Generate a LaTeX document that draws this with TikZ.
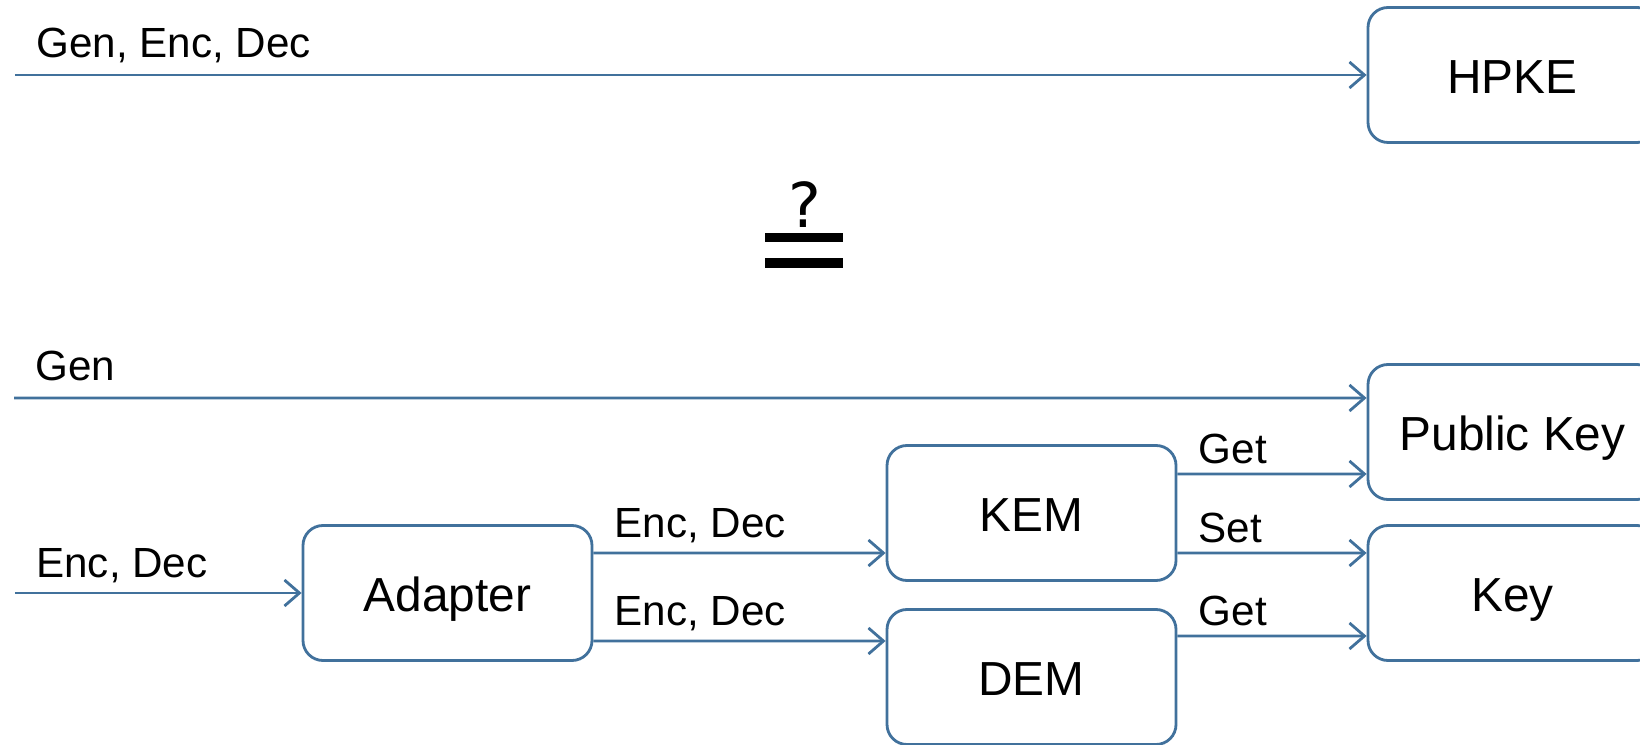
\documentclass[tikz,border=0pt]{standalone}
\usepackage{fontspec}
\setmainfont{Liberation Sans}
\newfontfamily\symfont{DejaVu Sans}
\usetikzlibrary{arrows.meta}
\definecolor{boxblue}{RGB}{65,113,156}
\tikzset{
  box/.style={draw=boxblue, line width=0.8pt, rounded corners=0.2cm,
    minimum width=2.89cm, minimum height=1.35cm, text height=1.05em, text depth=0pt,
    font=\fontsize{13.6}{16}\selectfont},
  arr/.style={draw=boxblue, line width=0.8pt, -{Straight Barb[length=1.5mm,width=2.6mm]}},
  lbl/.style={anchor=base west, inner sep=0pt, xshift=2mm, font=\fontsize{12}{14}\selectfont}
}
\begin{document}
\begin{tikzpicture}
                \useasboundingbox (0,0) rectangle (16.4,7.45);
                % top: the whole scheme
                \node[box] (hpke) at (15.125,6.70) {HPKE};
                \coordinate (topin) at (0.15,6.70);
                \draw[arr] (topin) -- node[lbl,pos=0,yshift=1.7mm] {Gen, Enc, Dec} (hpke);
                % questioned equal
                \node[font=\symfont\fontsize{17.6}{20}\selectfont, inner sep=0pt] (qmark) at (8.045,5.405) {?};
                \fill (7.65,5.03) rectangle (8.43,5.12);
                \fill (7.65,4.77) rectangle (8.43,4.87);
                % bottom: split into parts
                \node[box] (pk)      at (15.125,3.13) {Public Key};
                \node[box] (key)     at (15.125,1.52) {Key};
                \node[box] (kem)     at (10.315,2.32) {KEM};
                \node[box] (dem)     at (10.315,0.68) {DEM};
                \node[box] (adapter) at (4.475,1.52)  {Adapter};
                \coordinate (genin) at (0.14,3.47);
                \coordinate (encin) at (0.15,1.52);
                \draw[arr] (genin) -- node[lbl,pos=0,yshift=1.7mm] {Gen} ([yshift=3.4mm]pk.west);
                \draw[arr] (encin) -- node[lbl,pos=0,yshift=1.5mm] {Enc, Dec} (adapter);
                \draw[arr] ([yshift=4mm]adapter.east) -- node[lbl,pos=0,yshift=1.5mm] {Enc, Dec} ([yshift=-4mm]kem.west);
                \draw[arr] ([yshift=-4.8mm]adapter.east) -- node[lbl,pos=0,yshift=1.5mm] {Enc, Dec} ([yshift=3.6mm]dem.west);
                \draw[arr] ([yshift=3.9mm]kem.east) -- node[lbl,pos=0,yshift=1mm] {Get} ([yshift=-4.2mm]pk.west);
                \draw[arr] ([yshift=-4mm]kem.east) -- node[lbl,pos=0,yshift=1mm] {Set} ([yshift=4mm]key.west);
                \draw[arr] ([yshift=4.1mm]dem.east) -- node[lbl,pos=0,yshift=1mm] {Get} ([yshift=-4.3mm]key.west);
            \end{tikzpicture}
\end{document}
